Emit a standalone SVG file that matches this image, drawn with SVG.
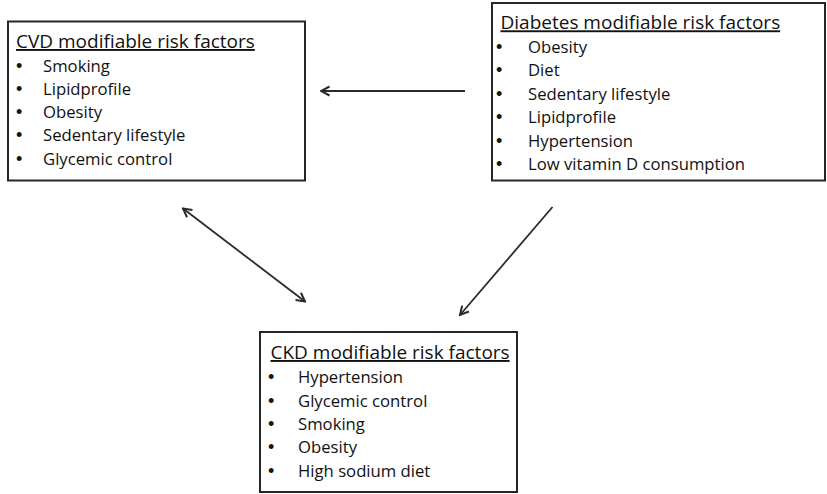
<svg xmlns="http://www.w3.org/2000/svg" width="827" height="494" viewBox="0 0 827 494">
<style>
.box{fill:#fff;stroke:#262626;stroke-width:2}
.title{font-family:"Open Sans","Liberation Sans",sans-serif;font-size:19px;fill:#111;text-decoration:underline}
.item{font-family:"Open Sans","Liberation Sans",sans-serif;font-size:16.7px;fill:#111}
.bul{font-family:"Liberation Sans","Open Sans",sans-serif;font-size:18px;fill:#111}
.conn{stroke:#2b2b2b;stroke-width:1.8;fill:none}
</style>
<defs>
<marker id="arr" viewBox="0 0 12 12" refX="10.5" refY="6" markerWidth="12" markerHeight="12" markerUnits="userSpaceOnUse" orient="auto-start-reverse">
<path d="M2,1.5 L10.5,6 L2,10.5" fill="none" stroke="#2b2b2b" stroke-width="2" stroke-linejoin="miter"/>
</marker>
</defs>
<rect width="827" height="494" fill="#fff"/>
<g id="cvd">
<rect class="box" x="8" y="21.5" width="297" height="159"/>
<text class="title" x="16" y="48">CVD modifiable risk factors</text>
<text class="bul" x="16" y="71.5">•</text><text class="item" x="43" y="71.5">Smoking</text>
<text class="bul" x="16" y="94.8">•</text><text class="item" x="43" y="94.8">Lipidprofile</text>
<text class="bul" x="16" y="118.1">•</text><text class="item" x="43" y="118.1">Obesity</text>
<text class="bul" x="16" y="141.4">•</text><text class="item" x="43" y="141.4">Sedentary lifestyle</text>
<text class="bul" x="16" y="164.7">•</text><text class="item" x="43" y="164.7">Glycemic control</text>
</g>
<g id="diabetes">
<rect class="box" x="492" y="3" width="333" height="177.5"/>
<text class="title" x="500.5" y="29.3">Diabetes modifiable risk factors</text>
<text class="bul" x="496" y="52.5">•</text><text class="item" x="528" y="52.5">Obesity</text>
<text class="bul" x="496" y="76">•</text><text class="item" x="528" y="76">Diet</text>
<text class="bul" x="496" y="99.5">•</text><text class="item" x="528" y="99.5">Sedentary lifestyle</text>
<text class="bul" x="496" y="123">•</text><text class="item" x="528" y="123">Lipidprofile</text>
<text class="bul" x="496" y="146.5">•</text><text class="item" x="528" y="146.5">Hypertension</text>
<text class="bul" x="496" y="170">•</text><text class="item" x="528" y="170">Low vitamin D consumption</text>
</g>
<g id="ckd">
<rect class="box" x="260" y="332" width="257" height="160"/>
<text class="title" x="270.5" y="359">CKD modifiable risk factors</text>
<text class="bul" x="268" y="383.3">•</text><text class="item" x="298" y="383.3">Hypertension</text>
<text class="bul" x="268" y="406.6">•</text><text class="item" x="298" y="406.6">Glycemic control</text>
<text class="bul" x="268" y="429.9">•</text><text class="item" x="298" y="429.9">Smoking</text>
<text class="bul" x="268" y="453.2">•</text><text class="item" x="298" y="453.2">Obesity</text>
<text class="bul" x="268" y="476.5">•</text><text class="item" x="298" y="476.5">High sodium diet</text>
</g>
<g id="connectors">
<line class="conn" x1="465" y1="91" x2="321" y2="91" marker-end="url(#arr)"/>
<line class="conn" x1="183" y1="208.5" x2="305" y2="301.5" marker-start="url(#arr)" marker-end="url(#arr)"/>
<line class="conn" x1="552.5" y1="207" x2="460" y2="315" marker-end="url(#arr)"/>
</g>
</svg>
